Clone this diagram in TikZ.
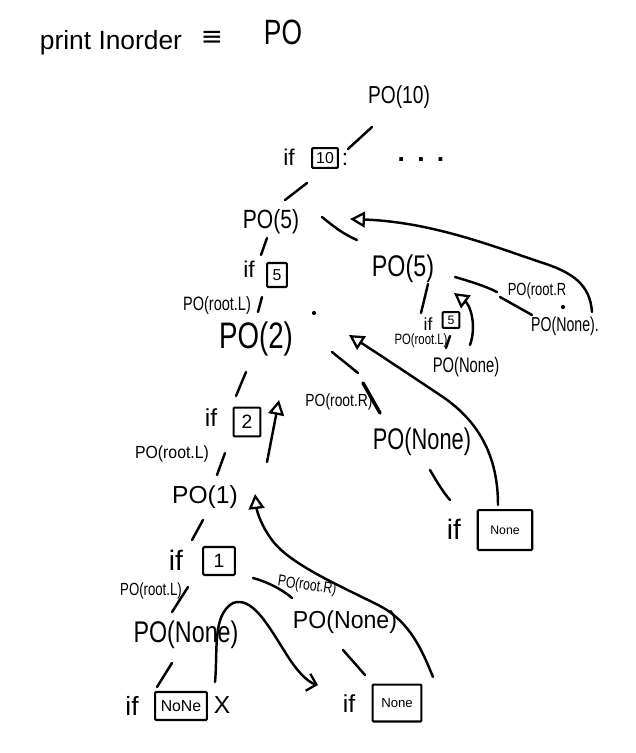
\documentclass[tikz,border=0pt]{standalone}
\usepackage{fontspec}
\setmainfont{Liberation Sans}
\newfontfamily\symf{DejaVu Sans}
\usetikzlibrary{arrows.meta}
\newcommand{\fsz}[1]{\fontsize{#1}{#1}\selectfont}
\newcommand{\nar}[2]{\scalebox{#1}[1]{#2}}
\begin{document}
\begin{tikzpicture}[x=0.02cm,y=-0.02cm,
  edge/.style={line width=1.4pt, line cap=round, line join=round},
  ret/.style={edge, -{Triangle[open,length=8.5pt,width=9pt,line width=1.3pt]}},
  barb/.style={edge, -{Straight Barb[length=5pt,width=10pt,line width=1.3pt]}},
  txt/.style={inner sep=0pt},
  vbox/.style={draw, line width=1.2pt, inner sep=1pt, rounded corners=0.6pt},
  dotmark/.style={circle, fill, inner sep=0pt, minimum size=2.4pt}
]
\useasboundingbox (0,0) rectangle (635,753);

% ---------- title ----------
\node[txt,font=\fsz{15}] (title) at (111,43) {print Inorder};
\node[txt,font=\symf\fsz{15}] (equiv) at (212,38) {≡};
\node[txt,font=\fsz{20}] (titlepo) at (283,32) {\nar{.75}{PO}};

% ---------- top ----------
\node[txt,font=\fsz{14}] (po10) at (399,97) {\nar{.78}{PO(10)}};
\node[txt,font=\fsz{13}] (if10) at (289,157) {if};
\node[vbox,minimum width=14.7pt,minimum height=11.3pt,font=\fsz{9}] (b10) at (325,158) {10};
\node[txt,font=\fsz{13}] (col10) at (345,159) {:};
\node[txt,font=\bfseries\fsz{15}] (dots) at (421,160) {.\hspace{7pt}.\hspace{7pt}.};

% ---------- PO(5) left ----------
\node[txt,font=\fsz{15}] (po5) at (271,222) {\nar{.8}{PO(5)}};
\node[txt,font=\fsz{13}] (if5) at (249,269) {if};
\node[vbox,minimum width=11.3pt,minimum height=13.6pt,font=\fsz{9}] (b5) at (277,275) {5};
\node[txt,font=\fsz{11}] (lbl5L) at (217,305) {\nar{.75}{PO(root.L)}};
\node[dotmark] (dot1) at (314,313) {};
\node[txt,font=\fsz{21}] (po2) at (256,339) {\nar{.75}{PO(2)}};

% ---------- PO(5) right ----------
\node[txt,font=\fsz{17}] (po5r) at (403,269) {\nar{.78}{PO(5)}};
\node[txt,font=\fsz{10}] (lbl5R) at (537,291) {\nar{.74}{PO(root.R}};
\node[dotmark] (dot2) at (563,307) {};
\node[txt,font=\fsz{11.5}] (none5) at (565,326) {\nar{.7}{PO(None).}};
\node[txt,font=\fsz{10}] (if5r) at (428,324) {if};
\node[vbox,minimum width=9.6pt,minimum height=9pt,font=\fsz{7}] (b5r) at (451,320) {5};
\node[txt,font=\fsz{8.5}] (lbl5rL) at (421,341) {\nar{.76}{PO(root.L)}};
\node[txt,font=\fsz{12}] (none5L) at (466,367) {\nar{.7}{PO(None)}};

% ---------- right of PO(2) ----------
\node[txt,font=\fsz{10}] (lbl2R) at (339,402) {\nar{.79}{PO(root.R)}};
\node[txt,font=\fsz{17}] (noneM) at (422,442) {\nar{.73}{PO(None)}};
\node[txt,font=\fsz{16}] (ifNM) at (454,529) {if};
\node[vbox,minimum width=31pt,minimum height=22.7pt,font=\fsz{7}] (bNM) at (505,530) {None};

% ---------- left chain ----------
\node[txt,font=\fsz{14}] (if2) at (211,418) {if};
\node[vbox,minimum width=15.3pt,minimum height=16.4pt,font=\fsz{11}] (b2) at (247,422) {2};
\node[txt,font=\fsz{10}] (lbl2L) at (172,454) {\nar{.9}{PO(root.L)}};
\node[txt,font=\fsz{14}] (po1) at (205,497) {PO(1)};
\node[txt,font=\fsz{16}] (if1) at (176,560) {if};
\node[vbox,minimum width=18pt,minimum height=15.9pt,font=\fsz{11}] (b1) at (219,561) {1};
\node[txt,font=\fsz{10}] (lbl1L) at (151,591) {\nar{.75}{PO(root.L)}};
\node[txt,font=\fsz{17}] (noneL) at (186,635) {\nar{.78}{PO(None)}};
\node[txt,font=\fsz{15}] (ifNL) at (132,706) {if};
\node[vbox,minimum width=29.5pt,minimum height=15.9pt,font=\fsz{9}] (bNL) at (181,706) {NoNe};
\node[txt,font=\fsz{14}] (xL) at (222,705) {X};
\node[txt,font=\fsz{9},rotate=-8] (lbl1R) at (307,586) {\nar{.77}{PO(root.R)}};
\node[txt,font=\fsz{14}] (noneR) at (345,622) {\nar{.94}{PO(None)}};
\node[txt,font=\fsz{14}] (ifNR) at (349,704) {if};
\node[vbox,minimum width=27.8pt,minimum height=21pt,font=\fsz{7.5}] (bNR) at (397,703) {None};

% ---------- tree edges ----------
\draw[edge] (372,127) coordinate (e1a) -- (348,149) coordinate (e1b);
\draw[edge] (307,183) coordinate (e2a) -- (285,200) coordinate (e2b);
\draw[edge] (267,238) coordinate (e3a) -- (261,255) coordinate (e3b);
\draw[edge] (262,297) coordinate (e4a) -- (258,312) coordinate (e4b);
\draw[edge] (322,217) coordinate (e5a) .. controls (333,226) and (343,234) .. (357,240) coordinate (e5b);
\draw[edge] (455,277) coordinate (e6a) .. controls (472,282) and (485,286) .. (497,292) coordinate (e6b);
\draw[edge] (500,297) coordinate (e6c) -- (532,315) coordinate (e6d);
\draw[edge] (428,284) coordinate (e7a) -- (421,313) coordinate (e7b);
\draw[edge] (450,336) coordinate (e8a) -- (446,348) coordinate (e8b);
\draw[edge] (332,352) coordinate (e9a) -- (358,373) coordinate (e9b);
\draw[edge,line width=2pt] (363,383) coordinate (e9c) -- (380,413) coordinate (e9d);
\draw[edge] (246,372) coordinate (e10a) -- (236,396) coordinate (e10b);
\draw[edge] (225,453) coordinate (e11a) -- (217,475) coordinate (e11b);
\draw[edge] (203,520) coordinate (e12a) -- (192,540) coordinate (e12b);
\draw[edge] (188,587) coordinate (e13a) -- (172,612) coordinate (e13b);
\draw[edge] (172,663) coordinate (e14a) -- (157,687) coordinate (e14b);
\draw[edge] (253,578) coordinate (e15a) .. controls (268,582) and (283,590) .. (292,598) coordinate (e15b);
\draw[edge] (343,650) coordinate (e16a) -- (365,675) coordinate (e16b);
\draw[edge] (430,470) coordinate (e17a) .. controls (437,482) and (443,492) .. (450,500) coordinate (e17b);

% ---------- return arrows ----------
\draw[ret] (592,312) coordinate (r1a) .. controls (590,284) and (572,272) .. (540,262)
  .. controls (490,245) and (430,222) .. (350,219) coordinate (r1b);
\draw[ret] (470,345) coordinate (r2a) .. controls (477,325) and (470,305) .. (454,293) coordinate (r2b);
\draw[ret] (498,505) coordinate (r3a) .. controls (498,455) and (478,420) .. (440,395)
  .. controls (410,375) and (380,355) .. (349,335) coordinate (r3b);
\draw[ret] (267,462) coordinate (r4a) -- (279,400) coordinate (r4b);
\draw[ret] (433,677) coordinate (r5a) .. controls (422,650) and (410,622) .. (380,606)
  .. controls (345,588) and (290,565) .. (272,540) .. controls (262,527) and (257,512) .. (255,494) coordinate (r5b);
\draw[barb] (215,682) coordinate (r6a) .. controls (218,650) and (212,615) .. (233,603)
  .. controls (252,596) and (268,625) .. (285,652) .. controls (296,670) and (307,682) .. (318,685) coordinate (r6b);
\end{tikzpicture}
\end{document}
